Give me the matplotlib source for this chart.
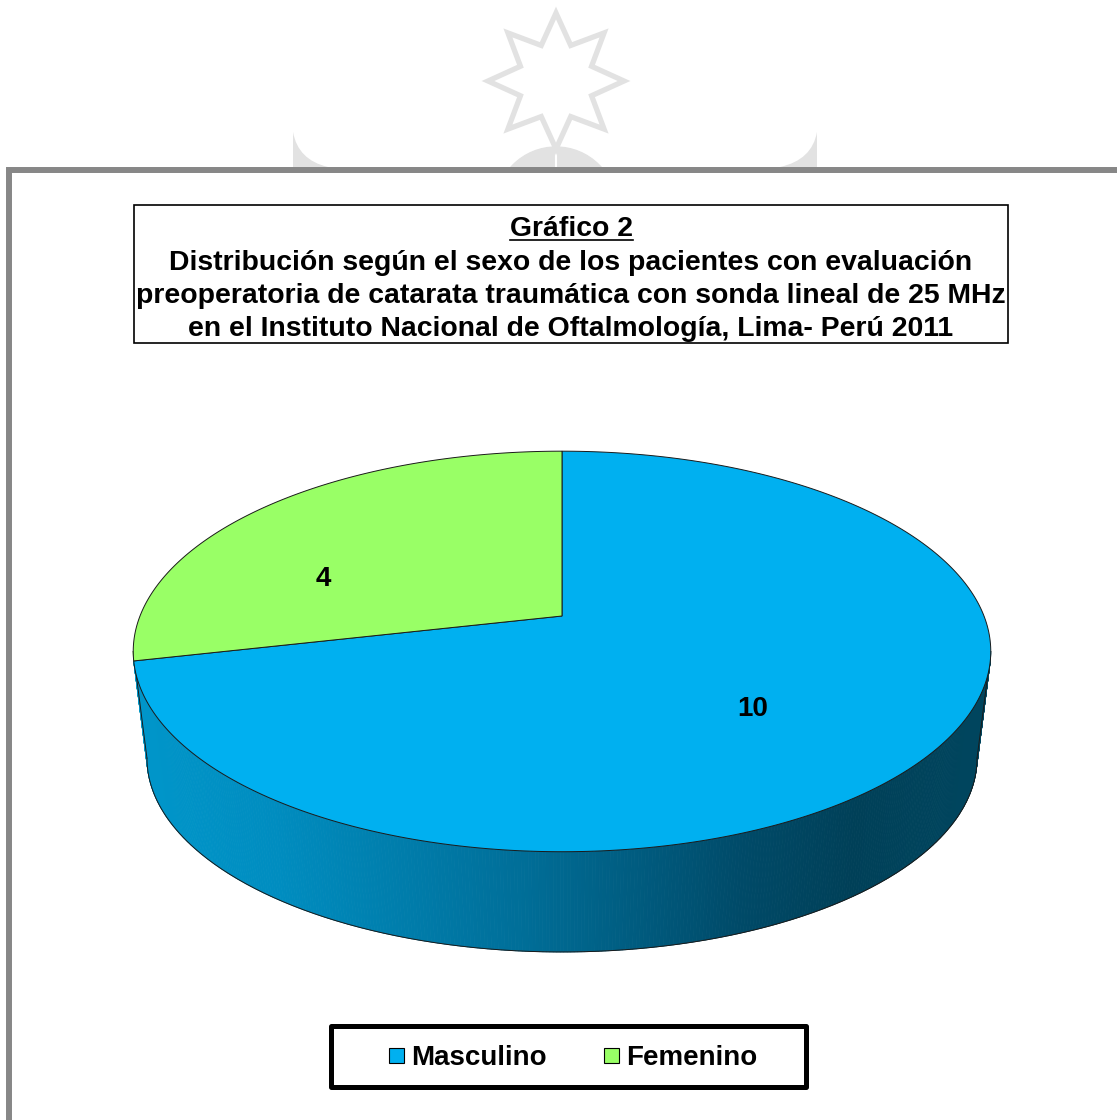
import matplotlib
matplotlib.use('Agg')
import matplotlib.pyplot as plt
import numpy as np
from matplotlib.patches import Polygon, Rectangle, PathPatch
from matplotlib.path import Path
from matplotlib.colors import to_rgb

plt.rcParams['font.family'] = ['Liberation Sans', 'DejaVu Sans']

# Data
categories = ['Masculino', 'Femenino']
values = [10, 4]
top_colors = ['#00B0F0', '#99FF66']
title_head = 'Gráfico 2'
title_lines = ['Distribución según el sexo de los pacientes con evaluación',
               'preoperatoria de catarata traumática con sonda lineal de 25 MHz',
               'en el Instituto Nacional de Oftalmología, Lima- Perú 2011']

W, H = 1117, 1120
fig = plt.figure(figsize=(W / 100, H / 100), dpi=100)
ax = fig.add_axes([0, 0, 1, 1])
ax.set_xlim(0, W)
ax.set_ylim(H, 0)
ax.axis('off')

# ── watermark (light logo behind frame) ──
wm = '#E2E2E2'
n = 8
ang = np.linspace(np.pi / 2, np.pi / 2 + 2 * np.pi, 2 * n, endpoint=False)
rad = np.where(np.arange(2 * n) % 2 == 0, 68, 38.5)
star = np.column_stack([556 + rad * np.cos(ang), 81 - rad * np.sin(ang)])
ax.add_patch(Polygon(star, closed=True, fill=False, edgecolor=wm, lw=3.8, zorder=1))
ax.add_patch(plt.Circle((556, 207.6), 60.6, color=wm, zorder=0.5))
ax.plot([556, 556], [142, 167], color='white', lw=1.5, zorder=0.6)
for verts in ([(293, 132), (293, 167), (328, 167), (298, 160), (293, 132)],
              [(817, 132), (817, 167), (780, 167), (812, 160), (817, 132)]):
    codes = [Path.MOVETO, Path.LINETO, Path.LINETO, Path.CURVE3, Path.CURVE3]
    ax.add_patch(PathPatch(Path(verts, codes), facecolor=wm, edgecolor='none', zorder=0.5))

# gray frame
ax.add_patch(Rectangle((12, 173), W, H, facecolor='white', edgecolor='none', zorder=0.8))
ax.plot([9, 9, W + 5], [H + 5, 170, 170], color='#878787', lw=4.3,
        solid_joinstyle='miter', zorder=2)

# ── title box ──
ax.add_patch(Rectangle((134, 205), 874, 138, facecolor='white', edgecolor='black',
                       lw=1.2, zorder=3))
tkw = dict(ha='center', va='baseline', fontsize=20.4, fontweight='bold', zorder=4)
th = ax.text(571, 236, title_head, **tkw)
for i, line in enumerate(title_lines):
    ax.text(571, 270 + 33 * i, line, **tkw)
fig.canvas.draw()
bb = th.get_window_extent().transformed(ax.transData.inverted())
ax.plot([bb.x0, bb.x1], [239.5, 239.5], color='black', lw=1.2, zorder=4)

# ── 3D pie ──
cx, cy = 562, 616
A, B, k = 422, 194, 0.177
sb, cyb = 0.968, 723.8


def proj(t, r=1.0, bottom=False):
    X, Y = r * np.cos(t), r * np.sin(t)
    d = 1 + k * Y
    if bottom:
        return cx + A * sb * X / d, cyb - B * sb * Y / d
    return cx + A * X / d, cy - B * Y / d


frac = np.array(values) / np.sum(values)
starts = np.pi / 2 - 2 * np.pi * np.concatenate([[0], np.cumsum(frac)[:-1]])
ends = starts - 2 * np.pi * frac

# wall gradient (by screen x)
gx = [140, 277, 524, 743, 853, 990]
gc = [to_rgb(c) for c in ['#0096CA', '#008DC0', '#006E98', '#004A68', '#004058', '#00465F']]


def wall_color(x, owner):
    rgb = np.array([np.interp(x, gx, [c[j] for c in gc]) for j in range(3)])
    if owner == 1:
        f = rgb.sum() / np.sum(to_rgb(top_colors[0]))
        return tuple(np.clip(np.array(to_rgb(top_colors[1])) * f, 0, 1))
    return tuple(rgb)


t_left = np.pi + np.arcsin(k)
t_right = 2 * np.pi - np.arcsin(k)
wall_t = np.linspace(t_left, t_right, 400)
for t0, t1 in zip(wall_t[:-1], wall_t[1:]):
    tm = 0.5 * (t0 + t1)
    owner = 0
    for i, (s, e) in enumerate(zip(starts, ends)):
        if (tm - e) % (2 * np.pi) <= (s - e):
            owner = i
    p = [proj(t0), proj(t1), proj(t1, bottom=True), proj(t0, bottom=True)]
    col = wall_color(np.mean([q[0] for q in p]), owner)
    ax.add_patch(Polygon(p, closed=True, facecolor=col, edgecolor=col, lw=0.6, zorder=5))

# wall outline
edge = '#1A1A1A'
ax.plot(*proj(wall_t, bottom=True), color=edge, lw=0.7, zorder=6)
for ts in (t_left, t_right):
    (x0, y0), (x1, y1) = proj(ts), proj(ts, bottom=True)
    ax.plot([x0, x1], [y0, y1], color=edge, lw=0.7, zorder=6)

# top faces
for i, (s, e) in enumerate(zip(starts, ends)):
    tt = np.linspace(s, e, 300)
    xs, ys = proj(tt)
    pts = np.vstack([[cx, cy], np.column_stack([xs, ys])])
    ax.add_patch(Polygon(pts, closed=True, facecolor=top_colors[i], edgecolor=edge,
                         lw=0.7, zorder=7))

# data labels
label_offsets = [(-21, 15), (-53, 31)]
for i, (s, e) in enumerate(zip(starts, ends)):
    lx, ly = proj(0.5 * (s + e), r=0.6)
    ax.text(lx + label_offsets[i][0], ly + label_offsets[i][1], str(values[i]),
            ha='center', va='center', fontsize=20, fontweight='bold', zorder=8)

# ── legend ──
ax.add_patch(Rectangle((330.5, 1025.5), 475, 61, facecolor='white', edgecolor='black',
                       lw=3.6, joinstyle='round', zorder=3))
mark_x = [389, 604]
for i, name in enumerate(categories):
    ax.add_patch(Rectangle((mark_x[i], 1048), 15, 15, facecolor=top_colors[i],
                           edgecolor='black', lw=0.8, zorder=4))
    ax.text(mark_x[i] + 22, 1065, name, ha='left', va='baseline', fontsize=20,
            fontweight='bold', zorder=4)

fig.savefig('out.png', dpi=100, facecolor='white')
